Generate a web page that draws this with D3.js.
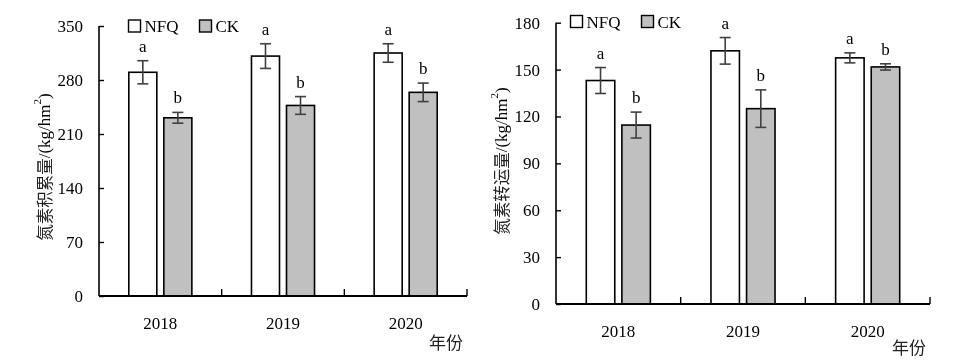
<!DOCTYPE html>
<html>
<head>
<meta charset="utf-8">
<script src="https://cdn.jsdelivr.net/npm/d3@7"></script>
<style>
  html, body { margin: 0; padding: 0; background: #fff; }
  #chart { will-change: transform; }
</style>
</head>
<body>
<svg id="chart" width="957" height="361"></svg>
<script>
// ---- data ----
const years = ["2018", "2019", "2020"];
const seriesNames = ["NFQ", "CK"];

// Left panel: nitrogen accumulation (kg/hm2)
const accNFQ = [290, 311, 315];
const accNFQErr = [15, 16, 12];
const accCK = [231, 247, 264];
const accCKErr = [7, 11.5, 12];
const accLettersNFQ = ["a", "a", "a"];
const accLettersCK = ["b", "b", "b"];
const accTicks = [0, 70, 140, 210, 280, 350];

// Right panel: nitrogen translocation (kg/hm2)
const traNFQ = [143, 162, 157.5];
const traNFQErr = [8.3, 8.5, 3.2];
const traCK = [114.5, 125, 151.7];
const traCKErr = [8.3, 12, 2];
const traLettersNFQ = ["a", "a", "a"];
const traLettersCK = ["b", "b", "b"];
const traTicks = [0, 30, 60, 90, 120, 150, 180];

const xTitle = "年份";
const seriesFill = { NFQ: "#ffffff", CK: "#c0c0c0" };

const SERIF = "'Liberation Serif', 'Times New Roman', serif";
const CJK = "'Noto Sans CJK SC', sans-serif";

const svg = d3.select("#chart");

function txt(sel, size) {
  return sel.style("font-family", SERIF).style("font-size", size + "px").style("fill", "#000");
}

function panel(cfg) {
  const g = svg.append("g");
  const x = d3.scaleBand().domain(years).range([cfg.x0, cfg.x1]).padding(0);
  const bw = x.bandwidth();
  const xs = d3.scaleBand().domain(seriesNames)
    .range([0.243 * bw, 0.757 * bw]).paddingInner(0.2).paddingOuter(0);
  const y = d3.scaleLinear().domain([0, cfg.ticks[cfg.ticks.length - 1]]).range([cfg.y0, cfg.y1]);

  const rows = [];
  years.forEach((yr, i) => {
    rows.push({ yr, s: "NFQ", v: cfg.nfq[i], e: cfg.nfqErr[i], l: cfg.nfqL[i] });
    rows.push({ yr, s: "CK", v: cfg.ck[i], e: cfg.ckErr[i], l: cfg.ckL[i] });
  });

  // bars
  g.selectAll("rect.bar").data(rows).join("rect")
    .attr("x", d => x(d.yr) + xs(d.s))
    .attr("y", d => y(d.v))
    .attr("width", xs.bandwidth())
    .attr("height", d => y(0) - y(d.v))
    .attr("fill", d => seriesFill[d.s])
    .attr("stroke", "#000").attr("stroke-width", 1.6);

  // error bars
  const eg = g.selectAll("g.err").data(rows).join("g")
    .attr("stroke", "#404040").attr("stroke-width", 1.6);
  const cx = d => x(d.yr) + xs(d.s) + xs.bandwidth() / 2;
  eg.append("line").attr("x1", cx).attr("x2", cx)
    .attr("y1", d => y(d.v + d.e)).attr("y2", d => y(d.v - d.e));
  eg.append("line").attr("x1", d => cx(d) - 5.5).attr("x2", d => cx(d) + 5.5)
    .attr("y1", d => y(d.v + d.e)).attr("y2", d => y(d.v + d.e));
  eg.append("line").attr("x1", d => cx(d) - 5.5).attr("x2", d => cx(d) + 5.5)
    .attr("y1", d => y(d.v - d.e)).attr("y2", d => y(d.v - d.e));

  // letters
  txt(g.selectAll("text.sig").data(rows).join("text"), 17)
    .attr("x", cx).attr("y", d => y(d.v + d.e) - 9)
    .attr("text-anchor", "middle")
    .text(d => d.l);

  // y axis
  const yAxis = d3.axisLeft(y).tickValues(cfg.ticks).tickSize(-5).tickPadding(16).tickSizeOuter(0);
  const ya = g.append("g").attr("transform", `translate(${cfg.x0},0)`).call(yAxis);
  ya.select(".domain").attr("stroke", "#000").attr("stroke-width", 1.6)
    .attr("d", `M0,${cfg.y1}V${cfg.y0}`);
  ya.selectAll(".tick line").attr("stroke", "#000").attr("stroke-width", 1.4);
  txt(ya.selectAll(".tick text"), 17);

  // x axis
  const xa = g.append("g").attr("transform", `translate(0,${cfg.y0})`);
  xa.append("line").attr("x1", cfg.x0).attr("x2", cfg.x1).attr("y1", 0).attr("y2", 0)
    .attr("stroke", "#000").attr("stroke-width", 2);
  xa.selectAll("line.tk").data(years).join("line")
    .attr("x1", d => x(d) + bw).attr("x2", d => x(d) + bw)
    .attr("y1", 0).attr("y2", -7)
    .attr("stroke", "#000").attr("stroke-width", 1.4);
  txt(xa.selectAll("text.tl").data(years).join("text"), 17)
    .attr("x", d => x(d) + bw / 2).attr("y", 33)
    .attr("text-anchor", "middle").text(d => d);
  xa.append("text").attr("x", cfg.x1 - 4).attr("y", cfg.xTitleDy)
    .attr("text-anchor", "end")
    .style("font-family", CJK).style("font-size", "17px").style("fill", "#222")
    .text(xTitle);

  // y title
  const yt = txt(g.append("text"), 17)
    .attr("transform", `translate(${cfg.ytx},${cfg.yty}) rotate(-90)`)
    .attr("text-anchor", "middle").attr("dominant-baseline", "central");
  yt.append("tspan").style("font-family", CJK).style("font-size", "16.5px").style("fill", "#222").text(cfg.yTitle);
  yt.append("tspan").style("fill", "#000").text("/(kg/hm");
  yt.append("tspan").style("font-size", "11px").attr("dy", -7).text("2");
  yt.append("tspan").attr("dy", 7).text(")");

  // legend
  const lg = g.append("g").attr("transform", `translate(${cfg.lx},${cfg.ly})`);
  seriesNames.forEach((s, i) => {
    lg.append("rect").attr("x", i * 71).attr("y", 0).attr("width", 12).attr("height", 12)
      .attr("fill", seriesFill[s]).attr("stroke", "#000").attr("stroke-width", 1.4);
    txt(lg.append("text"), 17).attr("x", i * 71 + 16).attr("y", 12).text(s);
  });
}

panel({
  x0: 99, x1: 467, y0: 296, y1: 26,
  ticks: accTicks, nfq: accNFQ, nfqErr: accNFQErr, ck: accCK, ckErr: accCKErr,
  nfqL: accLettersNFQ, ckL: accLettersCK,
  yTitle: "氮素积累量", ytx: 44, yty: 167, lx: 128.5, ly: 20, xTitleDy: 53
});
panel({
  x0: 556, x1: 930, y0: 304, y1: 22.7,
  ticks: traTicks, nfq: traNFQ, nfqErr: traNFQErr, ck: traCK, ckErr: traCKErr,
  nfqL: traLettersNFQ, ckL: traLettersCK,
  yTitle: "氮素转运量", ytx: 501, yty: 161, lx: 570.5, ly: 15.5, xTitleDy: 50
});
</script>
</body>
</html>
